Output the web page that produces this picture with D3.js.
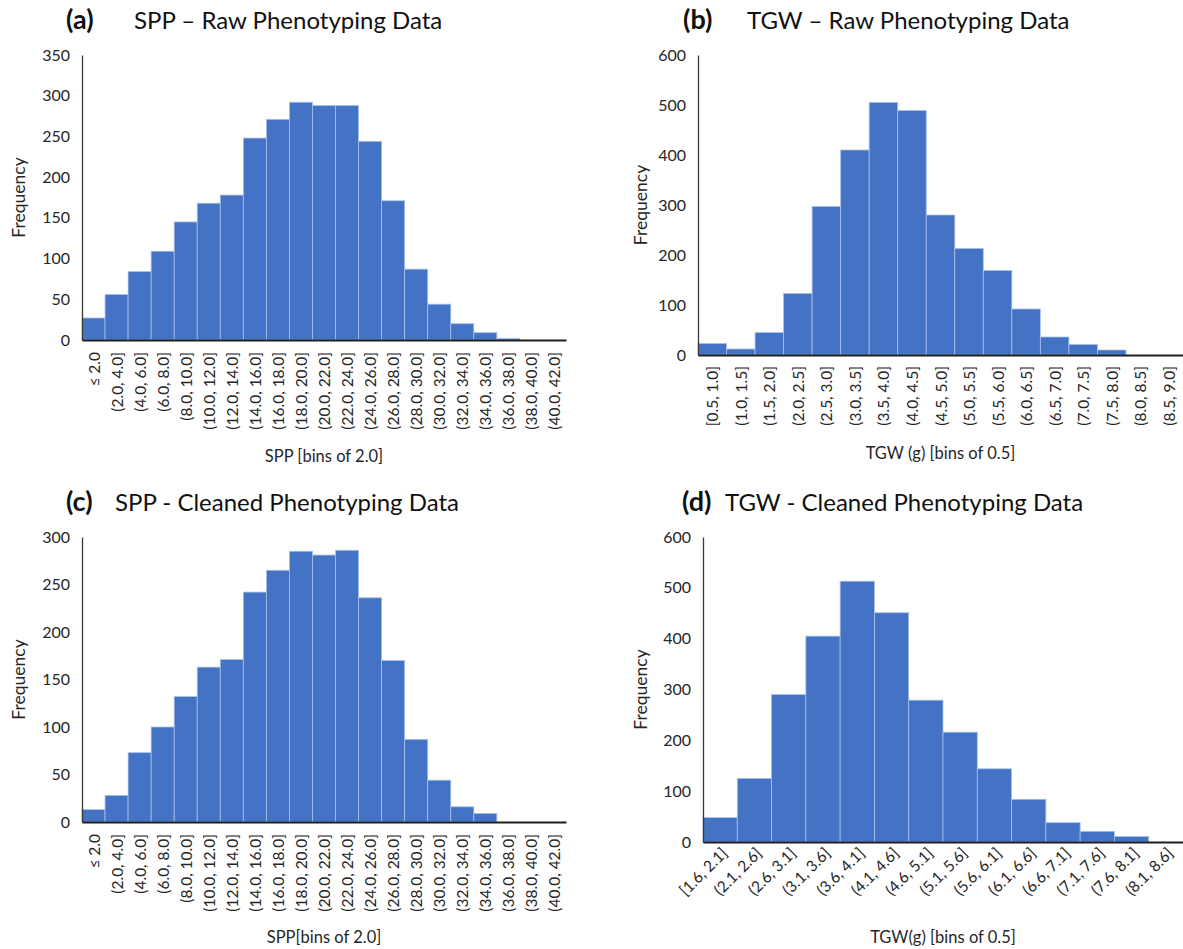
<!DOCTYPE html>
<html>
<head>
<meta charset="utf-8">
<script src="https://cdn.jsdelivr.net/npm/d3@7"></script>
<style>
  html, body { margin: 0; padding: 0; background: #ffffff; }
  svg { display: block; font-family: Lato, "Open Sans", sans-serif; }
</style>
</head>
<body>
<svg id="chart" width="1183" height="949"></svg>
<script>
// Bin labels
const sppBins = ["\u2264 2.0", "(2.0, 4.0]", "(4.0, 6.0]", "(6.0, 8.0]", "(8.0, 10.0]",
  "(10.0, 12.0]", "(12.0, 14.0]", "(14.0, 16.0]", "(16.0, 18.0]", "(18.0, 20.0]",
  "(20.0, 22.0]", "(22.0, 24.0]", "(24.0, 26.0]", "(26.0, 28.0]", "(28.0, 30.0]",
  "(30.0, 32.0]", "(32.0, 34.0]", "(34.0, 36.0]", "(36.0, 38.0]", "(38.0, 40.0]",
  "(40.0, 42.0]"];
const tgwRawBins = ["[0.5, 1.0]", "(1.0, 1.5]", "(1.5, 2.0]", "(2.0, 2.5]", "(2.5, 3.0]",
  "(3.0, 3.5]", "(3.5, 4.0]", "(4.0, 4.5]", "(4.5, 5.0]", "(5.0, 5.5]", "(5.5, 6.0]",
  "(6.0, 6.5]", "(6.5, 7.0]", "(7.0, 7.5]", "(7.5, 8.0]", "(8.0, 8.5]", "(8.5, 9.0]"];
const tgwCleanBins = ["[1.6, 2.1]", "(2.1, 2.6]", "(2.6, 3.1]", "(3.1, 3.6]", "(3.6, 4.1]",
  "(4.1, 4.6]", "(4.6, 5.1]", "(5.1, 5.6]", "(5.6, 6.1]", "(6.1, 6.6]", "(6.6, 7.1]",
  "(7.1, 7.6]", "(7.6, 8.1]", "(8.1, 8.6]"];

// Frequencies per bin
const sppRaw   = [27, 56, 84, 109, 145, 168, 178, 248, 271, 292, 288, 288, 244, 171, 87, 44, 20, 9, 2, 0, 0];
const sppClean = [13, 28, 73, 100, 132, 163, 171, 242, 265, 285, 281, 286, 236, 170, 87, 44, 16, 9, 0, 0, 0];
const tgwRaw   = [23, 12, 45, 123, 297, 410, 505, 489, 280, 213, 169, 92, 36, 21, 10, 0, 0];
const tgwClean = [48, 125, 290, 405, 513, 451, 279, 216, 144, 84, 38, 21, 11, 0];

// Axis tick values
const sppRawTicks   = [0, 50, 100, 150, 200, 250, 300, 350];
const sppCleanTicks = [0, 50, 100, 150, 200, 250, 300];
const tgwTicks      = [0, 100, 200, 300, 400, 500, 600];

const svg = d3.select("#chart");
const BAR = "#4472C4";
const TEXT = "#262626";
const FONT = "Lato, 'Open Sans', sans-serif";

const panels = [
  { tag: "(a)", title: "SPP \u2013 Raw Phenotyping Data", tagX: 66, titleX: 134, titleY: 29,
    bins: sppBins, values: sppRaw, ticks: sppRawTicks,
    left: 82, right: 566, top: 55, bottom: 340, labelTop: 352, angle: -90,
    xTitle: "SPP [bins of 2.0]", xTitleY: 462, freqX: 18 },
  { tag: "(b)", title: "TGW \u2013 Raw Phenotyping Data", tagX: 683, titleX: 747, titleY: 29,
    bins: tgwRawBins, values: tgwRaw, ticks: tgwTicks,
    left: 698, right: 1183, top: 55, bottom: 355, labelTop: 366, angle: -90,
    xTitle: "TGW (g) [bins of 0.5]", xTitleY: 459, freqX: 640 },
  { tag: "(c)", title: "SPP - Cleaned Phenotyping Data", tagX: 66, titleX: 115, titleY: 511,
    bins: sppBins, values: sppClean, ticks: sppCleanTicks,
    left: 82, right: 566, top: 537, bottom: 822, labelTop: 834, angle: -90,
    xTitle: "SPP[bins of 2.0]", xTitleY: 943, freqX: 18 },
  { tag: "(d)", title: "TGW - Cleaned Phenotyping Data", tagX: 682, titleX: 725, titleY: 511,
    bins: tgwCleanBins, values: tgwClean, ticks: tgwTicks,
    left: 703, right: 1183, top: 537, bottom: 842, labelTop: 850, angle: -45,
    xTitle: "TGW(g) [bins of 0.5]", xTitleY: 943, freqX: 640 }
];

panels.forEach(p => {
  const g = svg.append("g");

  const x = d3.scaleBand().domain(p.bins).range([p.left, p.right]).padding(0);
  const y = d3.scaleLinear().domain([0, d3.max(p.ticks)]).range([p.bottom, p.top]);

  // Panel heading
  const head = g.append("text").attr("y", p.titleY).attr("fill", "#111");
  head.append("tspan").attr("x", p.tagX).attr("font-weight", 700).attr("font-size", 27).text(p.tag);
  head.append("tspan").attr("x", p.titleX).attr("font-size", 24).text(p.title);

  // Bars
  g.append("g").selectAll("rect")
    .data(p.values.map((v, i) => ({ bin: p.bins[i], v })))
    .join("rect")
    .attr("x", d => x(d.bin))
    .attr("width", x.bandwidth())
    .attr("y", d => y(d.v))
    .attr("height", d => p.bottom - y(d.v))
    .attr("fill", BAR)
    .attr("stroke", "#A9C1E9")
    .attr("stroke-width", d => d.v > 0 ? 0.8 : 0);

  // Y axis
  const yAxis = g.append("g")
    .attr("transform", `translate(${p.left},0)`)
    .call(d3.axisLeft(y).tickValues(p.ticks).tickSize(0).tickPadding(12));
  yAxis.select(".domain").attr("stroke", "#3a3a3a").attr("stroke-width", 1.3);
  yAxis.selectAll("text").attr("font-size", 16).attr("fill", TEXT).attr("font-family", FONT);

  // X axis
  const xAxis = g.append("g")
    .attr("transform", `translate(0,${p.bottom})`)
    .call(d3.axisBottom(x).tickSize(0).tickSizeOuter(0));
  xAxis.select(".domain").attr("stroke", "#1f1f1f").attr("stroke-width", 2);
  xAxis.selectAll(".tick text")
    .attr("font-size", 15.5)
    .attr("fill", TEXT)
    .attr("font-family", FONT)
    .attr("text-anchor", "end")
    .attr("dy", null)
    .attr("y", 0)
    .attr("dominant-baseline", "central")
    .attr("transform", p.angle === -90
      ? `translate(0,${p.labelTop - p.bottom}) rotate(-90)`
      : `translate(4,${p.labelTop - p.bottom}) rotate(-45)`);

  // Axis titles
  g.append("text")
    .attr("x", (p.left + p.right) / 2)
    .attr("y", p.xTitleY)
    .attr("text-anchor", "middle")
    .attr("font-size", 16.5)
    .attr("fill", TEXT)
    .text(p.xTitle);

  g.append("text")
    .attr("transform", `translate(${p.freqX},${(p.top + p.bottom) / 2}) rotate(-90)`)
    .attr("text-anchor", "middle")
    .attr("dominant-baseline", "central")
    .attr("font-size", 17.5)
    .attr("fill", TEXT)
    .text("Frequency");
});
</script>
</body>
</html>
